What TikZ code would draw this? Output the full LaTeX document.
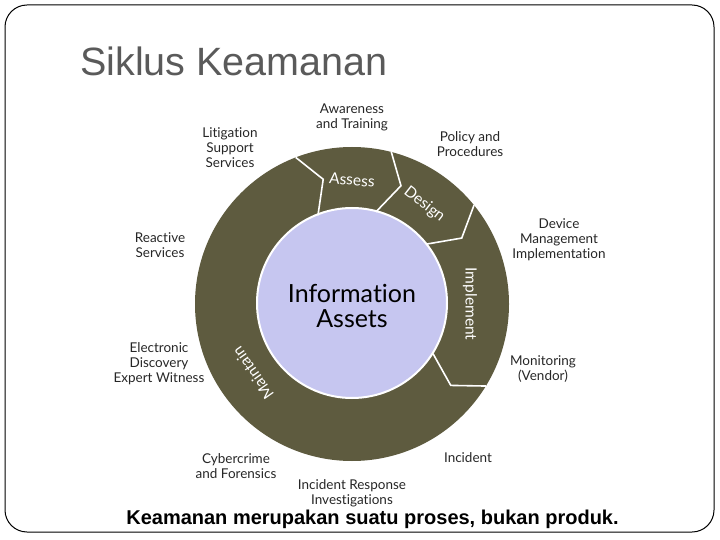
\documentclass[tikz,border=0pt]{standalone}
\usepackage{fontspec}
\setmainfont{Liberation Sans}
\newfontfamily\opt[Ligatures=NoCommon]{Lato}
\usetikzlibrary{calc}
\definecolor{ringc}{HTML}{5E5B3F}
\definecolor{corec}{HTML}{C6C6F0}
\definecolor{titlegray}{HTML}{5A5A5A}
\definecolor{labelc}{HTML}{262626}
\begin{document}
\begin{tikzpicture}[x=1pt,y=-1pt,
  lbl/.style={font=\opt\fontsize{13.5}{15}\selectfont, align=center, text=labelc, inner sep=0pt},
  segtext/.style={font=\opt\fontsize{15.5}{17}\selectfont, text=white, inner sep=0pt},
  sepline/.style={draw=white, line width=1.6pt, line join=miter}]
\useasboundingbox (0,0) rectangle (720,540);
\draw[line width=1pt, rounded corners=22pt] (5,5) rectangle (714,532);
\node[anchor=base west, font=\fontsize{39.5}{40}\selectfont, text=titlegray, inner sep=0pt] (title) at (80,76) {Siklus Keamanan};
\begin{scope}[shift={(352,304)}, y=1pt]
  \fill[ringc] (0,0) circle (157);
  \filldraw[fill=corec, draw=white, line width=2pt] (0,1) circle (95);
  \foreach \a in {111,75.5,39,-31.5} \draw[sepline] (\a:95) -- (\a-8:128) -- (\a:157);
  \node[segtext, rotate=-5] (assess) at (90:124) {Assess};
  \node[segtext, rotate=-38] (design) at (54:123) {Design};
  \node[segtext, rotate=-90] (implement) at (0:118) {Implement};
  \node[segtext, rotate=125] (maintain) at (215:121) {Maintain};
  \node[font=\opt\fontsize{25}{25}\selectfont, align=center, text=black, inner sep=0pt] (info) at (0,-2) {Information\\Assets};
\end{scope}
\node[lbl] (aware) at (352,117) {Awareness\\and Training};
\node[lbl] (litig) at (230,148) {Litigation\\Support\\Services};
\node[lbl] (policy) at (470,144) {Policy and\\Procedures};
\node[lbl] (device) at (559,240) {Device\\Management\\Implementation};
\node[lbl] (react) at (160,245) {Reactive\\Services};
\node[lbl] (elec) at (159,364) {Electronic\\Discovery\\Expert Witness};
\node[lbl] (monit) at (543,369) {Monitoring\\(Vendor)};
\node[lbl] (cyber) at (236,466) {Cybercrime\\and Forensics};
\node[lbl] (incid) at (468,458) {Incident};
\node[lbl] (resp) at (352,493) {Incident Response\\Investigations};
\node[anchor=base, font=\bfseries\fontsize{20}{20}\selectfont, inner sep=0pt] (caption) at (372.5,524) {Keamanan merupakan suatu proses, bukan produk.};
\end{tikzpicture}
\end{document}
